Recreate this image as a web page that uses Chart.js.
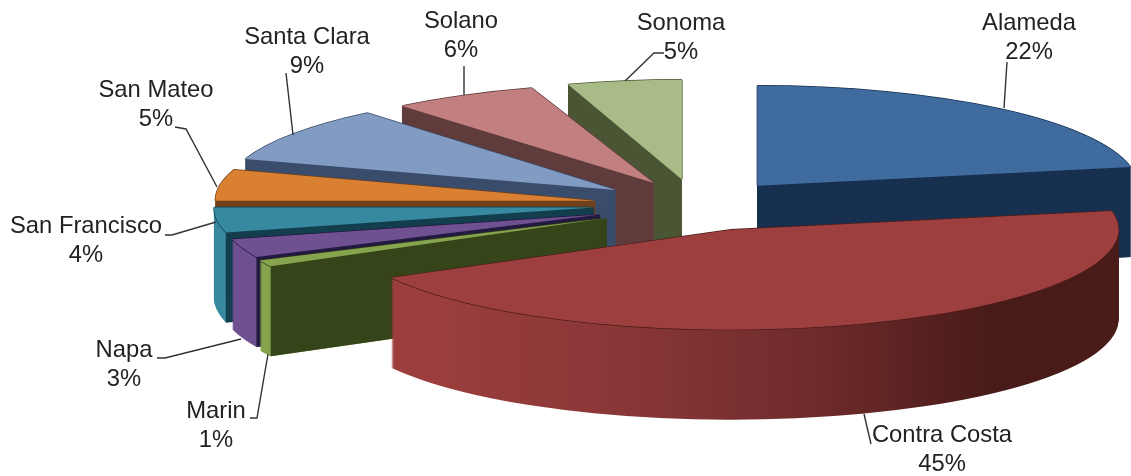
<!DOCTYPE html>
<html>
<head>
<meta charset="utf-8">
<style>
  html, body { margin: 0; padding: 0; background: #fff; }
  #wrap { width: 1131px; height: 476px; }
</style>
<script src="https://cdn.jsdelivr.net/npm/chart.js@4"></script>
</head>
<body>
<div id="wrap"><canvas id="pie"></canvas></div>
<script>
const counties = ['Alameda', 'Contra Costa', 'Marin', 'Napa', 'San Francisco', 'San Mateo', 'Santa Clara', 'Solano', 'Sonoma'];
const shares = [22, 45, 1, 3, 4, 5, 9, 6, 5];

const topColors = ['#406b9e', '#9d3f3f', '#86a44e', '#6f5091', '#37899f', '#d98033', '#829bc3', '#c27f7f', '#a9bc87'];
const wallColors = ['#17304f', '#4a1c19', '#364419', '#221a3f', '#123e4e', '#70401c', '#3a4c6b', '#5f3b3b', '#4a5633'];
const explode = [90, 112, 101, 106, 107, 106, 102, 100, 90];
const drawOrder = [0, 8, 7, 6, 5, 4, 3, 2, 1];

// small corrections for the perspective of the original: shift x, shift y, width factor
const perspective = [[0, 2, 1], [-7, 0, 1.02], [-3, 4, 1.01], [0, 3, 1], [0, 2, 1], [0, 3, 1], [0, 3, 1.025], [2, 4, 1.04], [-4, 1, 0.97]];

const squash = 0.263;
const depth = 90;

// x, y of the two text lines, then the leader line
const labelSpots = [
  { x: 1029, y: 30, lead: [[1007, 62], [1004, 108]] },
  { x: 942, y: 442, lead: [[864, 414], [871, 444]] },
  { x: 216, y: 418, lead: [[268, 354], [257, 418], [250, 418]] },
  { x: 124, y: 357, lead: [[241, 339], [165, 358], [157, 358]] },
  { x: 86, y: 233, lead: [[216, 222], [172, 235], [165, 235]] },
  { x: 156, y: 97, lead: [[217, 187], [186, 129], [175, 127]] },
  { x: 307, y: 44, lead: [[286, 73], [293, 135]] },
  { x: 461, y: 28, lead: [[464, 66], [464, 95]] },
  { x: 681, y: 30, lead: [[664, 53], [654, 53], [625, 81]] }
];

function rimColor(ctx, i) {
  if (i === 0) return wallColors[0];
  if (i !== 1) return topColors[i];
  let g = ctx.createLinearGradient(392, 0, 1118, 0);
  g.addColorStop(0, '#9d3e3e');
  g.addColorStop(0.3, '#873636');
  g.addColorStop(0.55, '#6e2a2a');
  g.addColorStop(0.78, '#471b19');
  g.addColorStop(1, '#4a1c19');
  return g;
}

function paintArc(ctx, arc, i, fill, dx, dy) {
  let mid = (arc.startAngle + arc.endAngle) / 2;
  let p = perspective[i];
  let base = arc.options;
  arc.options = Object.assign({}, base, { backgroundColor: fill });
  ctx.save();
  ctx.translate(arc.x + dx + p[0] + Math.cos(mid) * explode[i], arc.y + dy + p[1] + Math.sin(mid) * explode[i] * squash);
  ctx.scale(p[2], squash);
  ctx.translate(-arc.x, -arc.y);
  arc.draw(ctx);
  ctx.restore();
  arc.options = base;
}

function paintWall(ctx, arc, i, angle) {
  let mid = (arc.startAngle + arc.endAngle) / 2;
  let p = perspective[i];
  let cx = arc.x + p[0] + Math.cos(mid) * explode[i];
  let cy = arc.y + p[1] + Math.sin(mid) * explode[i] * squash;
  let ex = cx + Math.cos(angle) * arc.outerRadius * p[2];
  let ey = cy + Math.sin(angle) * arc.outerRadius * squash;
  ctx.fillStyle = wallColors[i];
  ctx.beginPath();
  ctx.moveTo(cx, cy);
  ctx.lineTo(ex, ey);
  ctx.lineTo(ex, ey + depth);
  ctx.lineTo(cx, cy + depth);
  ctx.closePath();
  ctx.fill();
}

const slice3d = {
  id: 'slice3d',
  beforeDatasetsDraw(chart) {
    let ctx = chart.ctx;
    let arcs = chart.getDatasetMeta(0).data;
    drawOrder.forEach(i => {
      let arc = arcs[i];
      let rim = rimColor(ctx, i);
      for (let d = depth; d > 0; d--) paintArc(ctx, arc, i, rim, 0, d);
      if (Math.cos(arc.startAngle) < 0) paintWall(ctx, arc, i, arc.startAngle);
      if (Math.cos(arc.endAngle) > 0) paintWall(ctx, arc, i, arc.endAngle);
      [[-0.7, 0], [0.7, 0], [0, -0.7], [0, 0.7]].forEach(o => paintArc(ctx, arc, i, wallColors[i], o[0], o[1]));
      paintArc(ctx, arc, i, topColors[i], 0, 0);
    });
    return false;
  },
  afterDraw(chart) {
    let ctx = chart.ctx;
    ctx.save();
    ctx.strokeStyle = '#333333';
    ctx.lineWidth = 1.4;
    ctx.fillStyle = '#222222';
    ctx.font = '23.8px "Liberation Sans", Arial, sans-serif';
    ctx.textAlign = 'center';
    counties.forEach((name, i) => {
      let spot = labelSpots[i];
      ctx.beginPath();
      spot.lead.forEach((p, n) => n ? ctx.lineTo(p[0], p[1]) : ctx.moveTo(p[0], p[1]));
      ctx.stroke();
      ctx.fillText(name, spot.x, spot.y);
      ctx.fillText(shares[i] + '%', spot.x, spot.y + 29);
    });
    ctx.restore();
  }
};

new Chart(document.getElementById('pie'), {
  type: 'pie',
  data: {
    labels: counties,
    datasets: [{ data: shares, backgroundColor: topColors, borderWidth: 0 }]
  },
  plugins: [slice3d],
  options: {
    responsive: true,
    maintainAspectRatio: false,
    animation: false,
    radius: 380,
    layout: { padding: { left: 269, bottom: 72 } },
    plugins: { legend: { display: false }, tooltip: { enabled: false } }
  }
});
</script>
</body>
</html>
